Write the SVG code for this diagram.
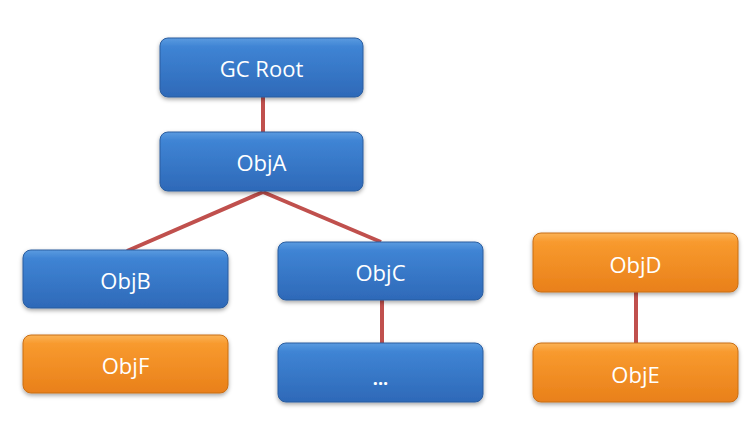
<svg xmlns="http://www.w3.org/2000/svg" width="750" height="421" viewBox="0 0 750 421">
<defs>
<linearGradient id="gb" x1="0" y1="0" x2="0" y2="1">
<stop offset="0" stop-color="#5b9be0"/>
<stop offset="0.15" stop-color="#3f84d4"/>
<stop offset="1" stop-color="#2e69b8"/>
</linearGradient>
<linearGradient id="go" x1="0" y1="0" x2="0" y2="1">
<stop offset="0" stop-color="#fbb357"/>
<stop offset="0.15" stop-color="#f89a2e"/>
<stop offset="1" stop-color="#e9801a"/>
</linearGradient>
<filter id="sh" x="-10%" y="-20%" width="120%" height="150%">
<feDropShadow dx="0" dy="2" stdDeviation="2" flood-color="#000" flood-opacity="0.35"/>
</filter>
</defs>
<style>
.b{fill:url(#gb);stroke:#2a5d9f;stroke-width:1;filter:url(#sh)}
.o{fill:url(#go);stroke:#c86e14;stroke-width:1;filter:url(#sh)}
.t{font-family:"Open Sans","Liberation Sans",sans-serif;font-size:22px;fill:#fff;text-anchor:middle;dominant-baseline:central}
.c{stroke:#c0504d;stroke-width:4;fill:none}
</style>
<rect width="750" height="421" fill="#fff"/>
<g id="connectors">
<line class="c" x1="263" y1="97" x2="263" y2="132"/>
<line class="c" x1="263" y1="192" x2="127" y2="251"/>
<line class="c" x1="263" y1="192" x2="381" y2="242"/>
<line class="c" x1="382" y1="300" x2="382" y2="343"/>
<line class="c" x1="636" y1="292" x2="636" y2="343"/>
</g>
<g id="gcroot"><rect class="b" x="160" y="38" width="203" height="59" rx="8"/><text class="t" x="261.5" y="68">GC Root</text></g>
<g id="objA"><rect class="b" x="160" y="132" width="203" height="59" rx="8"/><text class="t" x="261.5" y="162">ObjA</text></g>
<g id="objB"><rect class="b" x="23" y="250" width="205" height="58" rx="8"/><text class="t" x="125.5" y="280">ObjB</text></g>
<g id="objC"><rect class="b" x="278" y="242" width="205" height="58" rx="8"/><text class="t" x="380.5" y="272">ObjC</text></g>
<g id="objDots"><rect class="b" x="278" y="343" width="205" height="59" rx="8"/><text class="t" x="380.5" y="378" style="font-size:18px;font-weight:bold">...</text></g>
<g id="objF"><rect class="o" x="23" y="335" width="205" height="58" rx="8"/><text class="t" x="125.5" y="365">ObjF</text></g>
<g id="objD"><rect class="o" x="533" y="233" width="205" height="59" rx="8"/><text class="t" x="635.5" y="264">ObjD</text></g>
<g id="objE"><rect class="o" x="533" y="343" width="205" height="59" rx="8"/><text class="t" x="635.5" y="374">ObjE</text></g>
</svg>
